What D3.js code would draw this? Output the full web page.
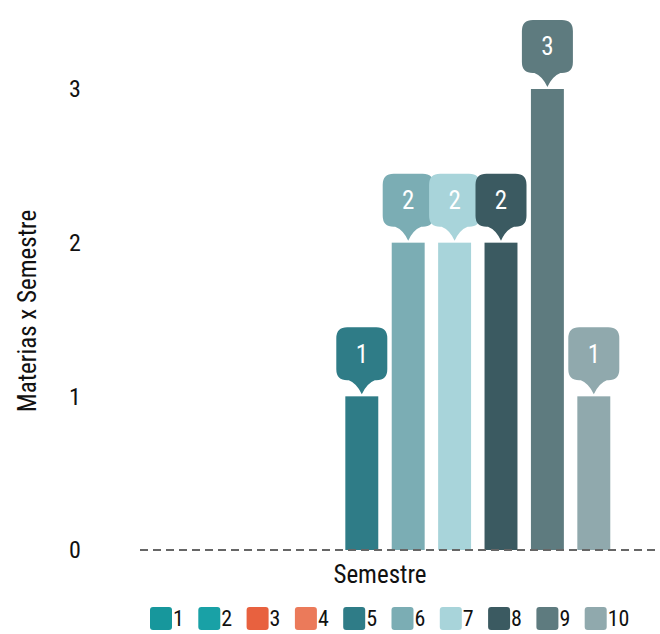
<!DOCTYPE html>
<html><head><meta charset="utf-8">
<script src="https://cdn.jsdelivr.net/npm/d3@7"></script>
<style>body{margin:0;background:#fff}svg{display:block}</style>
</head><body>
<script>
const categories = ["1","2","3","4","5","6","7","8","9","10"];
const values = [0,0,0,0,1,2,2,2,3,1];
const colors = ["#17979c","#19a1a6","#e8613f","#eb7a5a","#2f7c87","#7badb4","#a8d4da","#3b5a61","#5e7b7f","#90a9ad"];
const yTicks = [0,1,2,3];

const W=660,H=634;
const font = "'Liberation Sans Narrow','Roboto Condensed','Roboto',sans-serif";
const svg = d3.select("body").append("svg").attr("width",W).attr("height",H);

const x = d3.scaleBand().domain(categories).range([153,617]).paddingInner(0.29).paddingOuter(0.145);
const y = d3.scaleLinear().domain([0,3]).range([550,89]);

// y tick labels
svg.append("g").selectAll("text").data(yTicks).join("text")
  .attr("x",75).attr("y",d=>y(d)).attr("dy","0.35em").attr("text-anchor","middle")
  .attr("font-family",font).attr("font-size",24).attr("fill","#111").text(d=>d);

// y title
svg.append("text").attr("transform","translate(27,311) rotate(-90)")
  .attr("text-anchor","middle").attr("dy","0.35em")
  .attr("font-family",font).attr("font-size",25).attr("fill","#111").text("Materias x Semestre");

// bars
svg.append("g").selectAll("rect").data(categories).join("rect")
  .attr("x",d=>x(d)).attr("width",x.bandwidth())
  .attr("y",(d,i)=>y(values[i])).attr("height",(d,i)=>y(0)-y(values[i]))
  .attr("fill",(d,i)=>colors[i]);

// baseline dashed
svg.append("line").attr("x1",140).attr("x2",660).attr("y1",y(0)).attr("y2",y(0))
  .attr("stroke","#666").attr("stroke-width",2).attr("stroke-dasharray","8,5");

// x title
svg.append("text").attr("x",380).attr("y",574).attr("dy","0.35em").attr("text-anchor","middle")
  .attr("font-family",font).attr("font-size",25).attr("fill","#111").text("Semestre");

// callouts
const bw=51, bh=53, r=11, ph=14;
function bubblePath(cx, tipY){
  const b = tipY - ph;
  const t = b - bh;
  const l = cx - bw/2, rr = cx + bw/2;
  return `M${l+r},${t} H${rr-r} Q${rr},${t} ${rr},${t+r} V${b-r} Q${rr},${b} ${rr-r},${b} H${cx+13} Q${cx+5},${b+3} ${cx},${tipY} Q${cx-5},${b+3} ${cx-13},${b} H${l+r} Q${l},${b} ${l},${b-r} V${t+r} Q${l},${t} ${l+r},${t} Z`;
}
const lab = svg.append("g").selectAll("g").data(categories.filter((d,i)=>values[i]>0)).join("g");
lab.append("path")
  .attr("d",d=>{const i=categories.indexOf(d);return bubblePath(x(d)+x.bandwidth()/2, y(values[i])-2);})
  .attr("fill",d=>colors[categories.indexOf(d)]);
lab.append("text")
  .attr("x",d=>x(d)+x.bandwidth()/2)
  .attr("y",d=>y(values[categories.indexOf(d)])-2-ph-bh/2)
  .attr("dy","0.35em").attr("text-anchor","middle")
  .attr("font-family",font).attr("font-size",25).attr("fill","#fff")
  .text(d=>values[categories.indexOf(d)]);

// legend
const lg = svg.append("g").selectAll("g").data(categories).join("g")
  .attr("transform",(d,i)=>`translate(${150+i*48.3},607)`);
lg.append("rect").attr("width",22).attr("height",23).attr("rx",3).attr("fill",(d,i)=>colors[i]);
lg.append("text").attr("x",23).attr("y",11.5).attr("dy","0.35em")
  .attr("font-family",font).attr("font-size",22).attr("fill","#111").text(d=>d);
</script>
</body></html>
